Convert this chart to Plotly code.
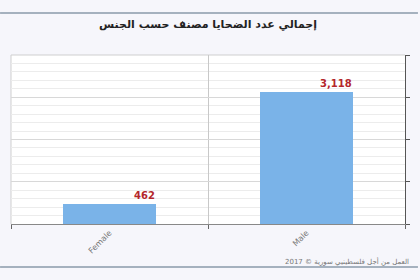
import plotly.graph_objects as go

categories = ["Female", "Male"]
values = [462, 3118]
value_labels = ["462", "3,118"]
title_text = "إجمالي عدد الضحايا مصنف حسب الجنس"
footer_text = "العمل من أجل فلسطينيي سورية © 2017"

W, H = 420, 280
L, R, T, B = 11, 13, 55, 56
plot_w = W - L - R
plot_h = H - T - B
bar_frac = 0.475
half_bar_px = bar_frac * plot_w / len(categories) / 2

fig = go.Figure()
fig.add_trace(go.Bar(
    x=categories, y=values, width=bar_frac,
    marker=dict(color="#7ab3e8", line=dict(width=0)),
    hoverinfo="skip",
))

for c, v, t in zip(categories, values, value_labels):
    fig.add_annotation(x=c, y=v, text="<b>%s</b>" % t, showarrow=False,
                       xanchor="right", yanchor="bottom", xshift=half_bar_px, yshift=1,
                       font=dict(family="DejaVu Sans", size=10, color="#b4272b"))

def py(ypix):
    return (H - B - ypix) / plot_h

def px(xpix):
    return (xpix - L) / plot_w

fig.add_shape(type="line", xref="paper", yref="paper", x0=px(0), x1=px(W), y0=py(13), y1=py(13),
              line=dict(color="#8a9aaa", width=1.5), layer="below")
fig.add_shape(type="line", xref="paper", yref="paper", x0=px(0), x1=px(W), y0=py(267), y1=py(267),
              line=dict(color="#8a9aaa", width=1.5), layer="below")
# plot area border (left/top)
fig.add_shape(type="line", xref="paper", yref="paper", x0=0, x1=1, y0=1, y1=1,
              line=dict(color="#cfcfcf", width=1), layer="below")
fig.add_shape(type="line", xref="paper", yref="paper", x0=0, x1=0, y0=0, y1=1,
              line=dict(color="#cfcfcf", width=1), layer="below")

fig.add_annotation(xref="paper", yref="paper", x=0.5, y=py(25), text="<b>%s</b>" % title_text,
                   showarrow=False, xanchor="center", yanchor="middle",
                   font=dict(family="DejaVu Sans", size=11, color="#222222"))
fig.add_annotation(xref="paper", yref="paper", x=px(413), y=py(261), text=footer_text,
                   showarrow=False, xanchor="right", yanchor="middle",
                   font=dict(family="DejaVu Sans", size=7, color="#777777"))

fig.update_layout(
    width=W, height=H,
    margin=dict(l=L, r=R, t=T, b=B),
    paper_bgcolor="#f6f6fb",
    plot_bgcolor="#ffffff",
    showlegend=False,
    bargap=0,
    xaxis=dict(
        type="category", tickson="boundaries", ticks="outside", ticklen=4,
        tickcolor="#666666", showline=True, linecolor="#888888", linewidth=1,
        showgrid=True, gridcolor="#c8c8c8", gridwidth=1,
        tickangle=-45, tickfont=dict(family="DejaVu Sans", size=8, color="#777777"),
        range=[-0.5, 1.5], fixedrange=True,
    ),
    yaxis=dict(
        side="right", range=[0, 4000], dtick=1000, showticklabels=False,
        ticks="outside", ticklen=4, tickcolor="#555555",
        showline=True, linecolor="#555555", linewidth=1.2,
        showgrid=True, gridcolor="#d8d8d8", gridwidth=1,
        minor=dict(dtick=200, showgrid=True, gridcolor="#ececec", gridwidth=1),
        zeroline=False, fixedrange=True,
    ),
)

fig.write_html("out.html")
